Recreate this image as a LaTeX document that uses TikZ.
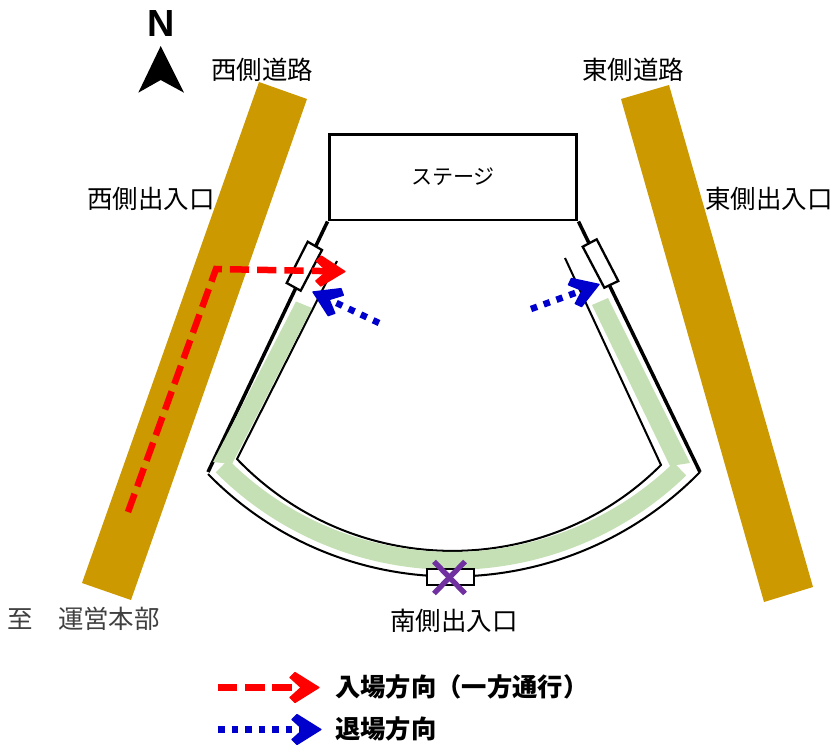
\documentclass[tikz,border=0pt]{standalone}
\usepackage{fontspec}
\setmainfont{Noto Sans CJK JP}
\newfontfamily\northfont{Liberation Sans}
\definecolor{roadcolor}{HTML}{CC9900}
\definecolor{seatcolor}{HTML}{C5E0B4}
\definecolor{entercolor}{HTML}{FF0000}
\definecolor{exitcolor}{HTML}{0000CC}
\definecolor{closedcolor}{HTML}{7030A0}
\tikzset{
    road/.style={fill=roadcolor},
    wall/.style={draw=black,line width=2pt},
    thinwall/.style={draw=black,line width=1.15pt},
    door/.style={draw=black,line width=1.3pt,fill=white},
    label/.style={inner sep=0,font=\fontsize{14.5pt}{16pt}\selectfont},
    boldlabel/.style={label,font=\fontsize{14.4pt}{16pt}\selectfont\bfseries},
    enterarrow/.style={draw=entercolor,line width=3.7pt,dash pattern=on 11pt off 4.5pt,shorten >=9pt},
    exitarrow/.style={draw=exitcolor,line width=3.7pt,dash pattern=on 3.7pt off 4pt,shorten >=9pt},
    chevron/.pic={
        \filldraw[solid,#1,line width=0.7pt,line join=round] (-1,0) -- (-25,-15) -- (-30,-10) -- (-19,0)
            -- (-30,10) -- (-25,15) -- cycle;
    },
    arrowhead/.style={pos=1,sloped,allow upside down},
}

\begin{document}
\begin{tikzpicture}[x=0.02cm,y=-0.02cm]
    \pgfmathsetmacro{\bandwidth}{18}
    \useasboundingbox (0,0) rectangle (831,744);
    % roads
    \fill[road] (259,82) -- (307,99) -- (131,600) -- (82,583) -- cycle;
    \fill[road] (621,99) -- (669,85) -- (813,587) -- (764,602) -- cycle;
    % stage and walls
    \node[draw=black,line width=1.7pt,minimum width=4.96cm,minimum height=1.72cm,inner sep=0,
        font=\fontsize{12pt}{14pt}\selectfont] (stage) at (453,177) {ステージ};
    \draw[wall] (stage.south west) -- (208,472);
    \draw[wall] (stage.south east) -- (700,472);
    \draw[thinwall] (208,474) .. controls (343,612) and (565,610) .. (700,472);
    \draw[thinwall] (337,261) -- (237,459) .. controls (353,580) and (545,581) .. (661,465) -- (565,258);
    % seating
    \fill[seatcolor] (296,301.5) -- (312,308) -- (232,464) -- (213,462) -- cycle;
    \fill[seatcolor] (592,305) -- (608,298) -- (690,463) -- (670,466) -- cycle;
    \draw[seatcolor,line width=\bandwidth*0.567pt] (222,466) .. controls (348,592) and (553,592) .. (680,469);
    % doors
    \draw[door] (307.7,241.7) -- (322,250) -- (300.7,290.7) -- (286.7,283) -- cycle;
    \draw[door] (582.7,246.7) -- (596.7,239.3) -- (618.3,281) -- (604.3,287.7) -- cycle;
    \draw[door] (427,569) rectangle (474,585);
    \draw[closedcolor,line width=3pt] (434,561.5) -- (465,593.5);
    \draw[closedcolor,line width=3pt] (465,561.5) -- (434,593.5);
    % arrows
    \coordinate (enterstart) at (128,512);
    \coordinate (entercorner) at (216,269);
    \coordinate (enterend) at (346,271.5);
    \coordinate (westexitstart) at (379,323);
    \coordinate (westexitend) at (312,291.5);
    \coordinate (eastexitstart) at (531,309);
    \coordinate (eastexitend) at (600,284);
    \draw[enterarrow] (enterstart) -- (entercorner) -- (enterend) pic[arrowhead]{chevron=entercolor};
    \draw[exitarrow] (westexitstart) -- (westexitend) pic[arrowhead]{chevron=exitcolor};
    \draw[exitarrow] (eastexitstart) -- (eastexitend) pic[arrowhead]{chevron=exitcolor};
    % north mark
    \node[inner sep=0,font=\northfont\bfseries\fontsize{21.5pt}{22pt}\selectfont] (north) at (161.5,24) {N};
    \fill[black] (160.7,46) -- (184,92.7) -- (160.7,80) -- (138.3,92.7) -- cycle;
    % labels
    \node[label] (westroad) at (262,70) {西側道路};
    \node[label] (eastroad) at (633,70) {東側道路};
    \node[label] (westgate) at (151,199) {西側出入口};
    \node[label] (eastgate) at (769,199) {東側出入口};
    \node[label] (southgate) at (454,621) {南側出入口};
    \node[label,text=black!75] (office) at (83.5,619) {至　運営本部};
    % legend
    \coordinate (enterkeystart) at (218,687.5);
    \coordinate (enterkeyend) at (320,687.5);
    \coordinate (exitkeystart) at (218,729.5);
    \coordinate (exitkeyend) at (322,729.5);
    \draw[enterarrow] (enterkeystart) -- (enterkeyend) pic[arrowhead]{chevron=entercolor};
    \draw[exitarrow] (exitkeystart) -- (exitkeyend) pic[arrowhead]{chevron=exitcolor};
    \node[boldlabel,anchor=west] (enterkey) at (335,687) {入場方向（一方通行）};
    \node[boldlabel,anchor=west] (exitkey) at (335,729) {退場方向};
\end{tikzpicture}
\end{document}
